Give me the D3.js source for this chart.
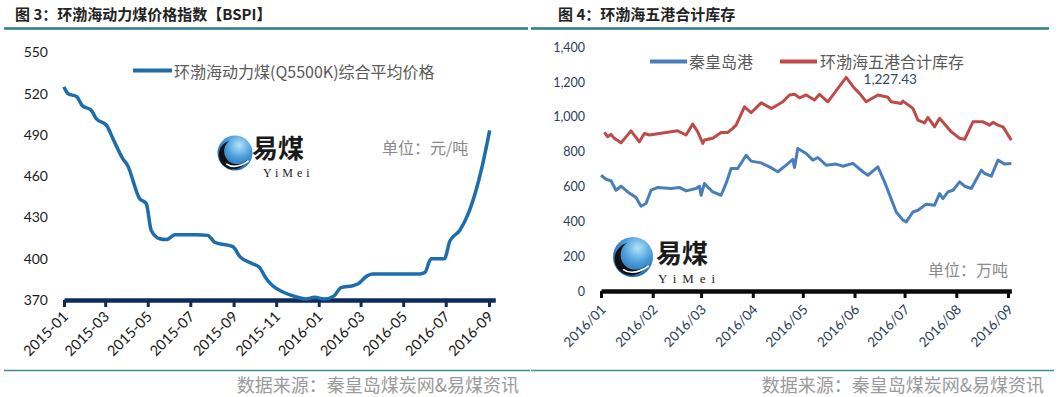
<!DOCTYPE html>
<html><head><meta charset="utf-8">
<script src="https://cdn.jsdelivr.net/npm/d3@7"></script>
<style>
html,body{margin:0;padding:0;background:#fff;}
svg{display:block;}
</style></head>
<body><svg id="c" width="1061" height="397"></svg>
<script>
// ---------- DATA ----------
const bspiDates = ["2015-01-01","2015-01-07","2015-01-19","2015-01-27","2015-02-09","2015-02-16","2015-03-03","2015-03-12","2015-03-26","2015-04-02","2015-04-19","2015-04-29","2015-05-06","2015-05-18","2015-05-28","2015-06-09","2015-07-04","2015-07-10","2015-07-26","2015-08-05","2015-08-31","2015-09-10","2015-09-28","2015-10-08","2015-10-18","2015-10-27","2015-11-10","2015-11-25","2015-12-14","2015-12-26","2016-01-09","2016-01-23","2016-02-02","2016-02-19","2016-02-26","2016-03-11","2016-03-18","2016-05-25","2016-06-01","2016-06-10","2016-06-29","2016-07-07","2016-07-21","2016-08-04","2016-08-16","2016-08-23","2016-09-02"];
const bspiValues = [525,520,518,511.5,508,502,497,487.5,473,468,444,440,420.5,414.6,414,417.5,417.5,417.5,417,412,408.8,401.5,396.4,393.7,385.5,380.4,376,373,370.7,372,370.7,373,379,380.4,381.6,387.7,389,389,390,400,400,413,420.5,435,454.5,469,493.3];
const leftXTicks = ["2015-01","2015-03","2015-05","2015-07","2015-09","2015-11","2016-01","2016-03","2016-05","2016-07","2016-09"];
const leftYTicks = [370,400,430,460,490,520,550];

const qhdDates = ["2016-01-01","2016-01-04","2016-01-07","2016-01-10","2016-01-13","2016-01-17","2016-01-22","2016-01-25","2016-01-28","2016-01-31","2016-02-04","2016-02-12","2016-02-17","2016-02-21","2016-02-27","2016-02-29","2016-03-01","2016-03-03","2016-03-08","2016-03-13","2016-03-16","2016-03-19","2016-03-23","2016-03-28","2016-03-31","2016-04-06","2016-04-11","2016-04-16","2016-04-21","2016-04-25","2016-04-26","2016-04-28","2016-05-03","2016-05-07","2016-05-10","2016-05-15","2016-05-21","2016-05-25","2016-05-31","2016-06-06","2016-06-09","2016-06-15","2016-06-19","2016-06-26","2016-06-30","2016-07-02","2016-07-06","2016-07-09","2016-07-14","2016-07-19","2016-07-22","2016-07-24","2016-07-27","2016-07-30","2016-08-03","2016-08-06","2016-08-10","2016-08-16","2016-08-18","2016-08-22","2016-08-26","2016-08-30","2016-09-03"];
const qhdValues = [665,642,633,579,602,569,537,487,503,579,595,589,595,575,589,602,550,618,569,550,618,704,704,780,746,736,713,685,723,756,710,819,790,752,767,723,729,717,733,685,665,713,627,454,407,397,454,464,499,493,560,531,569,579,627,602,589,694,675,660,752,729,733];

const bohaiDates = ["2016-01-03","2016-01-05","2016-01-07","2016-01-09","2016-01-13","2016-01-19","2016-01-24","2016-01-27","2016-01-30","2016-02-16","2016-02-21","2016-02-25","2016-02-28","2016-03-02","2016-03-03","2016-03-08","2016-03-13","2016-03-17","2016-03-20","2016-03-22","2016-03-27","2016-03-31","2016-04-06","2016-04-12","2016-04-14","2016-04-19","2016-04-23","2016-04-26","2016-04-29","2016-05-03","2016-05-08","2016-05-11","2016-05-16","2016-05-22","2016-05-27","2016-06-01","2016-06-04","2016-06-08","2016-06-15","2016-06-21","2016-06-23","2016-06-29","2016-06-30","2016-07-06","2016-07-09","2016-07-13","2016-07-15","2016-07-19","2016-07-22","2016-07-29","2016-08-03","2016-08-06","2016-08-11","2016-08-17","2016-08-21","2016-08-23","2016-08-26","2016-08-29","2016-09-03"];
const bohaiValues = [911,886,900,877,851,920,857,905,896,920,896,959,915,848,867,877,911,911,934,953,1058,1024,1081,1049,1058,1087,1126,1130,1110,1126,1097,1130,1087,1164,1227.43,1164,1135,1087,1126,1113,1087,1077,1091,1049,982,966,997,943,992,915,877,871,972,972,953,969,953,943,867];
const rightXTicks = ["2016/01","2016/02","2016/03","2016/04","2016/05","2016/06","2016/07","2016/08","2016/09"];
const rightYTicks = [0,200,400,600,800,1000,1200,1400];

const titles = ["图 3：环渤海动力煤价格指数【BSPI】","图 4：环渤海五港合计库存"];
const seriesNames = ["环渤海动力煤(Q5500K)综合平均价格","秦皇岛港","环渤海五港合计库存"];
const unitLabels = ["单位：元/吨","单位：万吨"];
const sourceText = "数据来源：秦皇岛煤炭网&易煤资讯";

// ---------- SETUP ----------
const svg = d3.select("#c");
const CJK = "'Noto Sans CJK SC', sans-serif";
const LAT = "Lato, 'Open Sans', sans-serif";
const pd = d3.timeParse("%Y-%m-%d");
const bspi = bspiDates.map((d,i)=>({date:pd(d), value:bspiValues[i]}));
const qhd = qhdDates.map((d,i)=>({date:pd(d), value:qhdValues[i]}));
const bohai = bohaiDates.map((d,i)=>({date:pd(d), value:bohaiValues[i]}));

const defs = svg.append("defs");
const grad = defs.append("radialGradient").attr("id","lg").attr("cx","62%").attr("cy","28%").attr("r","80%");
grad.append("stop").attr("offset","0%").attr("stop-color","#b4e4fa");
grad.append("stop").attr("offset","45%").attr("stop-color","#4a9ddb");
grad.append("stop").attr("offset","100%").attr("stop-color","#1a5a9c");

// titles & dividers
const teal = "#2d7c89";
svg.append("text").attr("x",15).attr("y",19.5).text(titles[0])
  .attr("font-family",CJK).attr("font-weight","bold").attr("font-size",15).attr("fill","#222");
svg.append("text").attr("x",558).attr("y",19.5).text(titles[1])
  .attr("font-family",CJK).attr("font-weight","bold").attr("font-size",15).attr("fill","#222");
svg.append("line").attr("x1",4).attr("x2",528).attr("y1",28.5).attr("y2",28.5).attr("stroke",teal).attr("stroke-width",2.5);
svg.append("line").attr("x1",531).attr("x2",1049).attr("y1",28.5).attr("y2",28.5).attr("stroke",teal).attr("stroke-width",2.5);
svg.append("line").attr("x1",4).attr("x2",530).attr("y1",370.5).attr("y2",370.5).attr("stroke","#3f8d98").attr("stroke-width",1.3);
svg.append("line").attr("x1",531).attr("x2",1054).attr("y1",370.5).attr("y2",370.5).attr("stroke","#3f8d98").attr("stroke-width",1.3);
svg.append("text").attr("x",519).attr("y",392).attr("text-anchor","end").text(sourceText)
  .attr("font-family",CJK).attr("font-size",18).attr("fill","#9a9a9a");
svg.append("text").attr("x",1044).attr("y",392).attr("text-anchor","end").text(sourceText)
  .attr("font-family",CJK).attr("font-size",18).attr("fill","#9a9a9a");

// logo
function logo(id, cx, cy, r, tx, tb, ts, yx, yb, ys, ysp) {
  const g = svg.append("g");
  g.append("circle").attr("cx",cx).attr("cy",cy).attr("r",r).attr("fill","url(#lg)");
  const m = defs.append("mask").attr("id",id).attr("maskUnits","userSpaceOnUse")
    .attr("x",0).attr("y",0).attr("width",1061).attr("height",397);
  m.append("rect").attr("width",1061).attr("height",397).attr("fill","#fff");
  m.append("circle").attr("cx",cx+0.12*r).attr("cy",cy-0.1*r).attr("r",0.74*r).attr("fill","#000");
  g.append("circle").attr("cx",cx-0.1*r).attr("cy",cy+0.1*r).attr("r",0.82*r).attr("fill","#111").attr("mask",`url(#${id})`);
  g.append("path").attr("d",`M${cx-0.5*r},${cy+0.62*r} Q${cx},${cy+0.98*r} ${cx+0.78*r},${cy+0.45*r}`)
    .attr("fill","none").attr("stroke","#fff").attr("stroke-width",1.6);
  g.append("text").attr("x",tx).attr("y",tb).text("易煤").attr("font-family",CJK).attr("font-weight","bold")
    .attr("font-size",ts).attr("fill","#1a1a1a");
  g.append("text").attr("x",yx).attr("y",yb).text("YiMei").attr("font-family","'Liberation Serif', 'DejaVu Serif', serif")
    .attr("font-size",ys).attr("letter-spacing",ysp).attr("fill","#222");
}
logo("m1", 235, 153, 17.5, 252, 158, 26, 263, 176.5, 12, 4);
logo("m2", 633, 257, 20, 656, 263, 26, 658, 282.5, 13, 6);

// ---------- LEFT CHART ----------
const parseYM = d3.timeParse("%Y-%m");
const xL = d3.scaleTime().domain([pd("2015-01-01"), pd("2016-09-10")]).range([64, 64 + 618*425/609]);
const yL = d3.scaleLinear().domain([370, 550]).range([300, 52.5]);

const axYL = d3.axisLeft(yL).tickValues(leftYTicks).tickSize(0).tickPadding(16);
const gyl = svg.append("g").attr("transform","translate(64,0)").call(axYL);
gyl.select(".domain").remove();
gyl.selectAll(".tick text").attr("font-family",LAT).attr("font-size",14).attr("fill","#1a1a1a");

const axXL = d3.axisBottom(xL).tickValues(leftXTicks.map(parseYM)).tickFormat(d3.timeFormat("%Y-%m")).tickSize(7).tickSizeOuter(0);
const gxl = svg.append("g").attr("transform",`translate(0,${yL(370)})`).call(axXL);
gxl.select(".domain").attr("stroke","#0f2b5e").attr("stroke-width",4.5);
gxl.selectAll(".tick line").attr("stroke","#0f2b5e").attr("stroke-width",3);
gxl.selectAll(".tick text").attr("font-family",LAT).attr("font-size",14.5).attr("fill","#1a1a1a")
  .attr("text-anchor","end").attr("x",0).attr("y",0).attr("dy","0.35em").attr("transform","translate(1,14) rotate(-45)");

svg.append("path").datum(bspi).attr("fill","none").attr("stroke","#1d6dad").attr("stroke-width",3.5)
  .attr("stroke-linejoin","round")
  .attr("d", d3.line().x(d=>xL(d.date)).y(d=>yL(d.value)).curve(d3.curveMonotoneX));

svg.append("line").attr("x1",133).attr("x2",172).attr("y1",70.5).attr("y2",70.5).attr("stroke","#1d6dad").attr("stroke-width",4);
svg.append("text").attr("x",174).attr("y",70.5).attr("dominant-baseline","central").text(seriesNames[0])
  .attr("font-family",CJK).attr("font-size",16).attr("fill","#595959");
svg.append("text").attr("x",382).attr("y",147).attr("dominant-baseline","central").text(unitLabels[0])
  .attr("font-family",CJK).attr("font-size",16).attr("fill","#8a8a8a");

// ---------- RIGHT CHART ----------
const parseYM2 = d3.timeParse("%Y/%m");
const xR = d3.scaleTime().domain([pd("2016-01-01"), pd("2016-09-03")]).range([601, 601 + 246*407/244]);
const yR = d3.scaleLinear().domain([0, 1400]).range([291, 47.3]);

const axYR = d3.axisLeft(yR).tickValues(rightYTicks).tickFormat(d3.format(",")).tickSize(0).tickPadding(16);
const gyr = svg.append("g").attr("transform","translate(601,0)").call(axYR);
gyr.select(".domain").remove();
gyr.selectAll(".tick text").attr("font-family",LAT).attr("font-size",12.5).attr("fill","#2b3d5a");

const axXR = d3.axisBottom(xR).tickValues(rightXTicks.map(parseYM2)).tickFormat(d3.timeFormat("%Y/%m")).tickSize(7).tickSizeOuter(0);
const gxr = svg.append("g").attr("transform",`translate(0,${yR(0)})`).call(axXR);
gxr.select(".domain").attr("stroke","#0a0a0a").attr("stroke-width",4.5);
gxr.selectAll(".tick line").attr("stroke","#0a0a0a").attr("stroke-width",3);
gxr.selectAll(".tick text").attr("font-family",LAT).attr("font-size",13.5).attr("fill","#2b3d5a")
  .attr("text-anchor","end").attr("x",0).attr("y",0).attr("dy","0.35em").attr("transform","translate(2,16) rotate(-45)");

const lineR = d3.line().x(d=>xR(d.date)).y(d=>yR(d.value));
svg.append("path").datum(bohai).attr("fill","none").attr("stroke","#be4b48").attr("stroke-width",3).attr("stroke-linejoin","round").attr("d",lineR);
svg.append("path").datum(qhd).attr("fill","none").attr("stroke","#4a7ebb").attr("stroke-width",3).attr("stroke-linejoin","round").attr("d",lineR);

const peak = bohai.reduce((a,b)=> b.value>a.value? b:a);
svg.append("text").attr("x",xR(peak.date)+44).attr("y",yR(peak.value)+2).attr("text-anchor","middle")
  .attr("dominant-baseline","central").text(d3.format(",.2f")(peak.value))
  .attr("font-family",LAT).attr("font-size",13.5).attr("fill","#2d4a6b");

svg.append("line").attr("x1",650).attr("x2",687).attr("y1",61.5).attr("y2",61.5).attr("stroke","#4a7ebb").attr("stroke-width",4);
svg.append("text").attr("x",689).attr("y",61).attr("dominant-baseline","central").text(seriesNames[1])
  .attr("font-family",CJK).attr("font-size",16).attr("fill","#595959");
svg.append("line").attr("x1",780).attr("x2",817).attr("y1",61.5).attr("y2",61.5).attr("stroke","#be4b48").attr("stroke-width",4);
svg.append("text").attr("x",820).attr("y",61).attr("dominant-baseline","central").text(seriesNames[2])
  .attr("font-family",CJK).attr("font-size",16).attr("fill","#595959");
svg.append("text").attr("x",928).attr("y",269).attr("dominant-baseline","central").text(unitLabels[1])
  .attr("font-family",CJK).attr("font-size",16).attr("fill","#8a8a8a");
</script>
</body></html>
